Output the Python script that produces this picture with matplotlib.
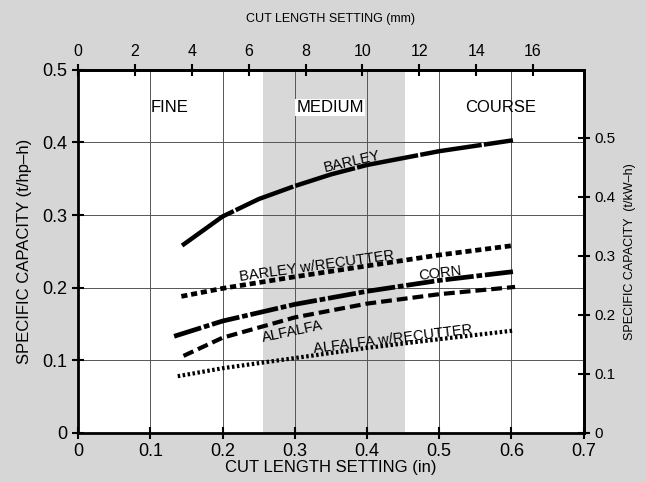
import numpy as np
import matplotlib
matplotlib.use('Agg')
import matplotlib.pyplot as plt

plt.rcParams['font.family'] = ['Liberation Sans', 'DejaVu Sans']

# curve data (cut length in inches, capacity in t/hp-h)
barley_x = [0.144, 0.2, 0.25, 0.3, 0.35, 0.4, 0.5, 0.602]
barley_y = [0.258, 0.298, 0.322, 0.340, 0.356, 0.369, 0.388, 0.403]
barley_rc_x = [0.143, 0.2, 0.3, 0.4, 0.5, 0.602]
barley_rc_y = [0.188, 0.199, 0.215, 0.230, 0.245, 0.258]
corn_x = [0.133, 0.2, 0.3, 0.4, 0.5, 0.602]
corn_y = [0.133, 0.154, 0.177, 0.195, 0.210, 0.222]
alfalfa_x = [0.146, 0.2, 0.3, 0.4, 0.5, 0.605]
alfalfa_y = [0.106, 0.131, 0.159, 0.178, 0.191, 0.201]
alfalfa_rc_x = [0.138, 0.2, 0.3, 0.4, 0.5, 0.604]
alfalfa_rc_y = [0.078, 0.089, 0.103, 0.117, 0.129, 0.141]

bottom_ticks = [0, 0.1, 0.2, 0.3, 0.4, 0.5, 0.6, 0.7]
left_ticks = [0, 0.1, 0.2, 0.3, 0.4, 0.5]
top_ticks = [0, 2, 4, 6, 8, 10, 12, 14, 16]
right_ticks = [0, 0.1, 0.2, 0.3, 0.4, 0.5]
hp_per_kw = 0.8126  # scale ratio as drawn on the chart
medium_band = (0.256, 0.452)

fig = plt.figure(figsize=(6.45, 4.82), dpi=100)
fig.patch.set_facecolor('#d6d6d6')
ax = fig.add_axes([0.121, 0.102, 0.784, 0.753])
ax.set_facecolor('white')
ax.set_xlim(0, 0.7)
ax.set_ylim(0, 0.5)

ax.axvspan(medium_band[0], medium_band[1], color='#d8d8d8', zorder=0, lw=0)
ax.grid(True, color='#555555', lw=0.7, zorder=1)
ax.set_axisbelow(True)

ax.plot(barley_x, barley_y, color='black', lw=3.2, dashes=(14, 0.5), zorder=3)
ax.plot(barley_rc_x, barley_rc_y, color='black', lw=3.4, dashes=(1.3, 0.8), zorder=3)
ax.plot(corn_x, corn_y, color='black', lw=3.4, dashes=(6, 0.6, 1.2, 0.6), zorder=3)
ax.plot(alfalfa_x, alfalfa_y, color='black', lw=3.0, dashes=(2.6, 1.2), zorder=3)
ax.plot(alfalfa_rc_x, alfalfa_rc_y, color='black', lw=3.0, dashes=(0.6, 0.6), zorder=3)

lab = dict(fontsize=10.5, ha='center', va='center', zorder=4)
ax.text(0.379, 0.374, 'BARLEY', rotation=13, **lab)
ax.text(0.330, 0.230, 'BARLEY w/RECUTTER', rotation=8, **lab)
ax.text(0.501, 0.219, 'CORN', rotation=7, **lab)
ax.text(0.297, 0.139, 'ALFALFA', rotation=12, **lab)
ax.text(0.436, 0.129, 'ALFALFA w/RECUTTER', rotation=7, **lab)

zone = dict(fontsize=12, ha='center', va='center')
ax.text(0.127, 0.448, 'FINE', **zone)
ax.text(0.349, 0.448, 'MEDIUM', bbox=dict(fc='white', ec='none', pad=1), **zone)
ax.text(0.585, 0.448, 'COURSE', **zone)

for s in ax.spines.values():
    s.set_linewidth(2)
ax.set_xticks(bottom_ticks)
ax.set_xticklabels(['0' if t == 0 else f'{t:g}' for t in bottom_ticks])
ax.set_yticks(left_ticks)
ax.set_yticklabels(['0' if t == 0 else f'{t:g}' for t in left_ticks])
ax.tick_params(direction='inout', length=8, width=1.5, labelsize=13)
ax.set_xlabel('CUT LENGTH SETTING (in)', fontsize=12, labelpad=0)
ax.set_ylabel('SPECIFIC CAPACITY (t/hp\u2013h)', fontsize=12, labelpad=8)

top = ax.secondary_xaxis('top', functions=(lambda x: x * 25.4, lambda m: m / 25.4))
top.set_xticks(top_ticks)
top.tick_params(direction='inout', length=8, width=1.5, labelsize=11.5)
top.set_xlabel('CUT LENGTH SETTING (mm)', fontsize=9, labelpad=16)
top.spines['top'].set_linewidth(2)

right = ax.secondary_yaxis('right', functions=(lambda y: y / hp_per_kw, lambda k: k * hp_per_kw))
right.set_yticks(right_ticks)
right.set_yticklabels(['0' if t == 0 else f'{t:g}' for t in right_ticks])
right.tick_params(direction='inout', length=8, width=1.5, labelsize=11)
right.set_ylabel('SPECIFIC CAPACITY  (t/kW\u2013h)', fontsize=9, labelpad=6)
right.spines['right'].set_linewidth(2)

fig.savefig('out.png', dpi=100, facecolor=fig.get_facecolor())
